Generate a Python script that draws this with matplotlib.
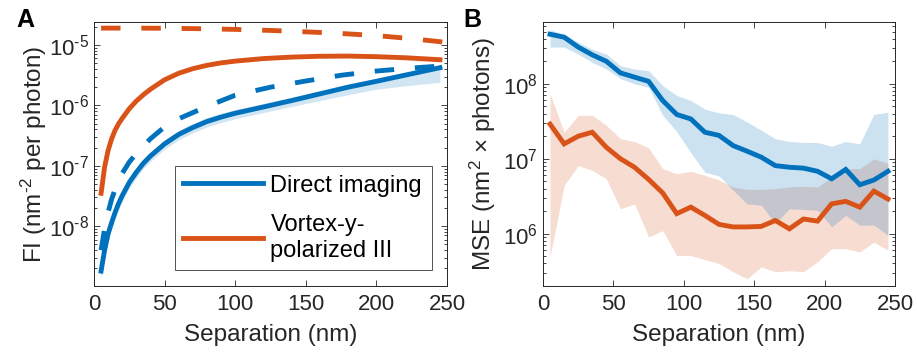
import numpy as np
import matplotlib
matplotlib.use("Agg")
import matplotlib.pyplot as plt
from matplotlib.ticker import LogLocator, FixedLocator, FuncFormatter, NullFormatter

plt.rcParams['font.family'] = ['Liberation Sans', 'DejaVu Sans']
plt.rcParams['mathtext.fontset'] = 'custom'
plt.rcParams['mathtext.rm'] = 'Liberation Sans'
plt.rcParams['mathtext.it'] = 'Liberation Sans:italic'
plt.rcParams['mathtext.bf'] = 'Liberation Sans:bold'
plt.rcParams['axes.unicode_minus'] = False
plt.rcParams['lines.scale_dashes'] = False

BLUE = '#0072BD'
ORANGE = '#D95319'
AXC = '#262626'

# ---------------- Panel A data ----------------
sep_solid = [5, 7.5, 10, 12.5, 15, 17.5, 20, 25, 30, 35, 40, 50, 60, 70, 80, 90, 100,
             120, 140, 160, 180, 200, 220, 245]
fi_direct = [1.8e-9, 4.0e-9, 7.5e-9, 1.15e-8, 1.7e-8, 2.4e-8, 3.2e-8, 5.3e-8, 7.8e-8, 1.1e-7,
             1.45e-7, 2.3e-7, 3.3e-7, 4.3e-7, 5.4e-7, 6.4e-7, 7.4e-7,
             9.4e-7, 1.2e-6, 1.55e-6, 2.0e-6, 2.5e-6, 3.15e-6, 4.2e-6]
fi_direct_lo = [1.3e-9, 3.0e-9, 5.7e-9, 9e-9, 1.35e-8, 1.9e-8, 2.55e-8, 4.3e-8, 6.3e-8, 9e-8,
                1.18e-7, 1.88e-7, 2.7e-7, 3.5e-7, 4.4e-7, 5.2e-7, 6.0e-7,
                7.6e-7, 9.6e-7, 1.2e-6, 1.5e-6, 1.85e-6, 2.1e-6, 2.4e-6]
fi_direct_hi = [2.3e-9, 5.0e-9, 9.2e-9, 1.4e-8, 2.05e-8, 2.9e-8, 3.85e-8, 6.3e-8, 9.3e-8, 1.3e-7,
                1.7e-7, 2.7e-7, 3.85e-7, 5e-7, 6.3e-7, 7.4e-7, 8.5e-7,
                1.08e-6, 1.37e-6, 1.75e-6, 2.25e-6, 2.8e-6, 3.5e-6, 4.6e-6]
fi_vortex = [3.5e-8, 9.5e-8, 1.8e-7, 2.8e-7, 3.9e-7, 5e-7, 6.1e-7, 8.8e-7, 1.18e-6, 1.5e-6,
             1.85e-6, 2.65e-6, 3.4e-6, 4.05e-6, 4.6e-6, 5.05e-6, 5.4e-6,
             5.95e-6, 6.3e-6, 6.5e-6, 6.55e-6, 6.4e-6, 6.15e-6, 5.7e-6]
fi_vortex_lo = [3.1e-8, 8.6e-8, 1.65e-7, 2.6e-7, 3.65e-7, 4.7e-7, 5.75e-7, 8.3e-7, 1.12e-6, 1.42e-6,
                1.76e-6, 2.52e-6, 3.23e-6, 3.85e-6, 4.37e-6, 4.8e-6, 5.13e-6,
                5.65e-6, 5.95e-6, 6.1e-6, 6.1e-6, 5.95e-6, 5.65e-6, 5.2e-6]
fi_vortex_hi = [3.9e-8, 1.04e-7, 1.95e-7, 3.0e-7, 4.15e-7, 5.3e-7, 6.45e-7, 9.3e-7, 1.24e-6, 1.58e-6,
                1.94e-6, 2.78e-6, 3.57e-6, 4.25e-6, 4.83e-6, 5.3e-6, 5.67e-6,
                6.25e-6, 6.6e-6, 6.8e-6, 6.85e-6, 6.7e-6, 6.45e-6, 6.0e-6]

sep_direct_bound = [5, 7.5, 10, 12.5, 15, 20, 25, 30, 40, 50, 60, 80, 100, 125, 150, 175, 200, 225, 250]
fi_direct_bound = [4.0e-9, 9.0e-9, 1.7e-8, 2.8e-8, 4.1e-8, 7.5e-8, 1.15e-7, 1.6e-7, 2.8e-7, 4.4e-7,
                   6.0e-7, 9.6e-7, 1.47e-6, 2.0e-6, 2.53e-6, 3.15e-6, 3.7e-6, 4.15e-6, 4.55e-6]
sep_vortex_bound = [5, 25, 50, 75, 100, 125, 150, 175, 200, 225, 250]
fi_vortex_bound = [1.9e-5, 1.9e-5, 1.89e-5, 1.86e-5, 1.81e-5, 1.74e-5, 1.65e-5, 1.55e-5, 1.43e-5,
                   1.27e-5, 1.1e-5]

legend_labels = ['Direct imaging', 'Vortex-y-\npolarized III']
yticks_A = [1e-8, 1e-7, 1e-6, 1e-5]

# ---------------- Panel B data ----------------
sep_B = [5, 15, 25, 35, 45, 55, 65, 75, 85, 95, 105, 115, 125, 135, 145, 155, 165, 175,
         185, 195, 205, 215, 225, 235, 245]
mse_direct = [4.6e8, 4.2e8, 3.1e8, 2.44e8, 2.0e8, 1.4e8, 1.23e8, 1.08e8, 6.0e7, 3.9e7, 3.4e7,
              2.26e7, 2.05e7, 1.5e7, 1.26e7, 1.05e7, 8.1e6, 7.7e6, 7.5e6, 6.8e6, 5.4e6, 7.2e6,
              4.5e6, 5.2e6, 6.8e6]
mse_direct_hi = [5.3e8, 4.6e8, 3.6e8, 2.9e8, 2.5e8, 1.75e8, 1.58e8, 1.5e8, 9.5e7, 7e7, 6e7,
                 4.6e7, 4.1e7, 3.9e7, 3.1e7, 2.4e7, 1.85e7, 1.7e7, 1.65e7, 1.65e7, 1.47e7, 1.7e7,
                 1.58e7, 3.9e7, 4.2e7]
mse_direct_lo = [3.1e8, 3.1e8, 2.5e8, 1.94e8, 1.58e8, 1.17e8, 1.0e8, 9e7, 3.8e7, 2.3e7, 1.2e7,
                 6.6e6, 5.9e6, 3.8e6, 2.5e6, 2.4e6, 1.36e6, 2.15e6, 2.1e6, 2.05e6, 1.23e6, 1.75e6,
                 1.3e6, 1.3e6, 9.5e5]
mse_vortex = [2.9e7, 1.58e7, 2.0e7, 2.26e7, 1.42e7, 1.0e7, 7.7e6, 5.3e6, 3.5e6, 1.85e6, 2.26e6,
              1.75e6, 1.33e6, 1.23e6, 1.23e6, 1.25e6, 1.5e6, 1.16e6, 1.57e6, 1.47e6, 2.5e6, 2.7e6,
              2.26e6, 3.7e6, 2.9e6]
mse_vortex_hi = [7.4e7, 2.26e7, 3.8e7, 3.8e7, 2.8e7, 1.85e7, 1.7e7, 1.4e7, 7.4e6, 6.3e6, 6.8e6,
                 6.0e6, 5.2e6, 4.2e6, 3.9e6, 3.9e6, 4.0e6, 4.2e6, 4.3e6, 4.2e6, 5.7e6, 7.4e6,
                 7.4e6, 1.0e7, 8.7e6]
mse_vortex_lo = [4.9e5, 4.4e6, 8.1e6, 7.0e6, 5.4e6, 2.15e6, 2.5e6, 9e5, 1.1e6, 5.1e5, 5.1e5,
                 4.5e5, 4.0e5, 3.1e5, 2.5e5, 3.6e5, 3.1e5, 3.2e5, 3.1e5, 4.2e5, 6.3e5, 6.3e5,
                 5.7e5, 7.7e5, 6.0e5]
yticks_B = [1e6, 1e7, 1e8]

xticks = [0, 50, 100, 150, 200, 250]

TICK_FS = 16
LABEL_FS = 17.5
LW = 3.5

fig = plt.figure(figsize=(9.17, 3.56), dpi=100)
axA = fig.add_axes([94/917, 70/356, 353/917, 264/356])
axB = fig.add_axes([543/917, 70/356, 352/917, 264/356])


def pow_label(v, pos):
    e = int(round(np.log10(v)))
    if e < 0:
        return r'$\mathdefault{10^{\text{-}%d}}$' % (-e)
    return r'$\mathdefault{10^{%d}}$' % e


def style(ax, yticks):
    ax.set_yscale('log')
    ax.set_xlim(0, 250)
    ax.set_xticks(xticks)
    ax.yaxis.set_major_locator(FixedLocator(yticks))
    ax.yaxis.set_major_formatter(FuncFormatter(pow_label))
    ax.yaxis.set_minor_locator(LogLocator(base=10, subs=np.arange(2, 10), numticks=20))
    ax.yaxis.set_minor_formatter(NullFormatter())
    ax.tick_params(which='both', direction='in', top=True, right=True, colors=AXC,
                   labelsize=TICK_FS, width=0.6)
    ax.tick_params(which='major', length=4.5)
    ax.tick_params(which='minor', length=2.5)
    ax.tick_params(axis='x', pad=6)
    for s in ax.spines.values():
        s.set_color(AXC)
        s.set_linewidth(0.7)
    ax.set_xlabel('Separation (nm)', fontsize=LABEL_FS, color=AXC, labelpad=6)


# ----- Panel A -----
axA.fill_between(sep_solid, fi_direct_lo, fi_direct_hi, color=BLUE, alpha=0.18, lw=0)
axA.fill_between(sep_solid, fi_vortex_lo, fi_vortex_hi, color=ORANGE, alpha=0.15, lw=0)
axA.plot(sep_vortex_bound, fi_vortex_bound, color=ORANGE, lw=LW, dashes=(14, 15),
         dash_capstyle='butt')
axA.plot(sep_direct_bound, fi_direct_bound, color=BLUE, lw=LW, dashes=(14, 15),
         dash_capstyle='butt')
l1, = axA.plot(sep_solid, fi_direct, color=BLUE, lw=LW, label=legend_labels[0])
l2, = axA.plot(sep_solid, fi_vortex, color=ORANGE, lw=LW, label=legend_labels[1])
style(axA, yticks_A)
axA.set_ylim(1.02e-9, 2.4e-5)
axA.set_ylabel(r'FI (nm$^{\text{-}2}$ per photon)', fontsize=LABEL_FS, color=AXC, labelpad=0)
leg = axA.legend(handles=[l1, l2], loc='lower left', bbox_to_anchor=(0.229, 0.061, 0.728, 0.397),
                 mode='expand', fontsize=17, frameon=True, fancybox=False, handlelength=3.4,
                 handletextpad=0.3, borderpad=0.35, labelspacing=0.75, borderaxespad=0)
leg.get_frame().set_edgecolor(AXC)
leg.get_frame().set_linewidth(0.7)
for t in leg.get_texts():
    t.set_color('black')

# ----- Panel B -----
axB.fill_between(sep_B, mse_vortex_lo, mse_vortex_hi, color=ORANGE, alpha=0.2, lw=0)
axB.plot(sep_B, mse_vortex, color=ORANGE, lw=LW, solid_joinstyle='miter')
axB.fill_between(sep_B, mse_direct_lo, mse_direct_hi, color=BLUE, alpha=0.2, lw=0)
axB.plot(sep_B, mse_direct, color=BLUE, lw=LW, solid_joinstyle='miter')
style(axB, yticks_B)
axB.set_ylim(2e5, 6.7e8)
axB.set_ylabel('MSE (nm$^{2}$ \u00d7 photons)', fontsize=LABEL_FS, color=AXC, labelpad=4)

fig.text(16/917, 1 - 8/356, 'A', fontsize=18, fontweight='bold', va='top', ha='left')
fig.text(463/917, 1 - 8/356, 'B', fontsize=18, fontweight='bold', va='top', ha='left')

fig.savefig('out.png', dpi=100)
